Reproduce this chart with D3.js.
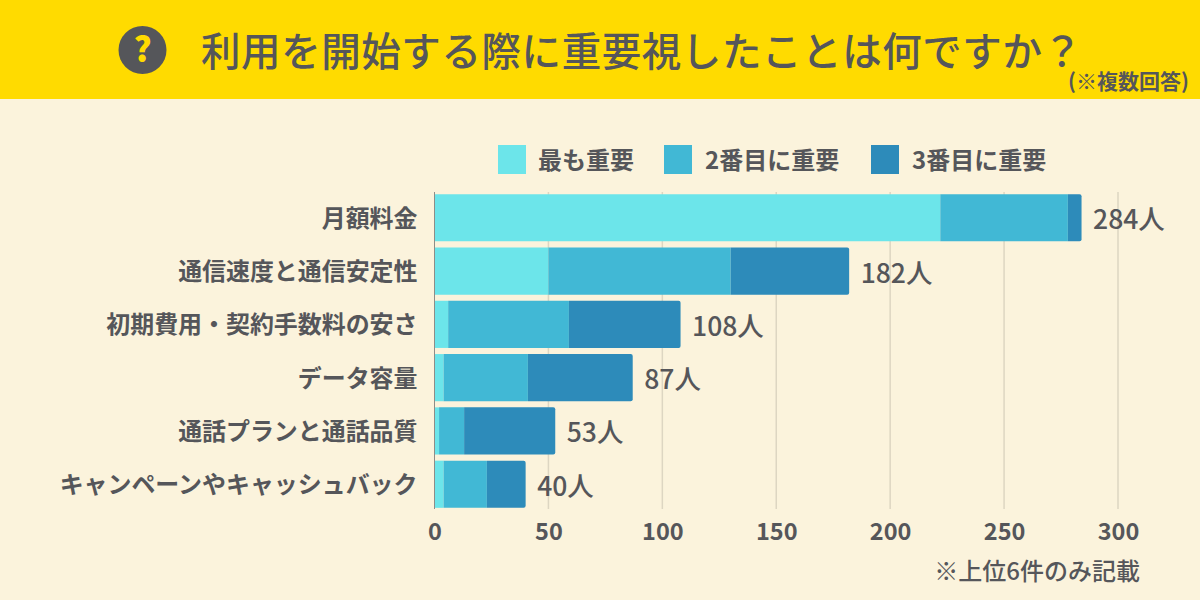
<!DOCTYPE html>
<html><head><meta charset="utf-8">
<script src="https://cdnjs.cloudflare.com/ajax/libs/d3/7.8.5/d3.min.js"></script>
<style>html,body{margin:0;padding:0;background:#fbf3dc}svg{display:block}text{font-family:"Noto Sans CJK JP",sans-serif;fill:#55565a}</style>
</head><body><svg id="c" width="1200" height="600"></svg>
<script>
const categories=["月額料金","通信速度と通信安定性","初期費用・契約手数料の安さ","データ容量","通話プランと通話品質","キャンペーンやキャッシュバック"];
const first=[222,50,6,4,2,4];
const second=[56,80,53,37,11,19];
const third=[6,52,49,46,40,17];
const totals=[284,182,108,87,53,40];
const seriesNames=["最も重要","2番目に重要","3番目に重要"];
const colors=["#6ce5ea","#41b8d5","#2d8bba"];
const ticks=[0,50,100,150,200,250,300];
const titleText="利用を開始する際に重要視したことは何ですか？";
const noteText="(※複数回答)";
const footText="※上位6件のみ記載";
const unit="人";

const svg=d3.select("#c");
svg.append("rect").attr("width",1200).attr("height",600).attr("fill","#fbf3dc");
svg.append("rect").attr("width",1200).attr("height",99).attr("fill","#ffdb00");
svg.append("circle").attr("cx",142.5).attr("cy",50).attr("r",24).attr("fill","#55565a");
svg.append("text").attr("x",142.5).attr("y",62).attr("text-anchor","middle").attr("font-size",34).attr("font-weight",900).style("fill","#ffdb00").text("?");
svg.append("text").attr("x",201).attr("y",65.5).attr("font-size",39.5).attr("font-weight",500).attr("textLength",881).attr("lengthAdjust","spacing").text(titleText);
svg.append("text").attr("x",1189).attr("y",89).attr("text-anchor","end").attr("font-size",21).attr("font-weight",700).text(noteText);

const x=d3.scaleLinear().domain([0,300]).range([434.5,1118]);
const y=d3.scaleBand().domain(categories).range([191.5,510.5]).paddingInner(0.115).paddingOuter(0.05);

// grid
svg.append("g").selectAll("line").data(ticks.slice(1)).join("line")
 .attr("x1",d=>x(d)).attr("x2",d=>x(d)).attr("y1",192).attr("y2",509)
 .attr("stroke","#ddd6c2").attr("stroke-width",1.5);

// bars
const stack=d3.stack().keys([0,1,2]).value((d,k)=>[first,second,third][k][categories.indexOf(d)]);
const layers=stack(categories);
layers.forEach((layer,k)=>{
  svg.append("g").selectAll("path").data(layer).join("path").attr("fill",colors[k]).attr("d",(d,i)=>{
    const x0=x(d[0]),x1=x(d[1]),t=y(categories[i]),b=t+y.bandwidth();
    if(k<2) return `M${x0},${t}H${x1}V${b}H${x0}Z`;
    const r=Math.min(2,x1-x0);
    return `M${x0},${t}H${x1-r}Q${x1},${t} ${x1},${t+r}V${b-r}Q${x1},${b} ${x1-r},${b}H${x0}Z`;
  });
});
// baseline
svg.append("line").attr("x1",x(0)).attr("x2",x(0)).attr("y1",192).attr("y2",509).attr("stroke","#8d8d88").attr("stroke-width",1);

// category labels
svg.append("g").selectAll("text").data(categories).join("text")
 .attr("x",417.5).attr("y",d=>y(d)+y.bandwidth()/2+9).attr("text-anchor","end")
 .attr("font-size",23.95).attr("font-weight",700).text(d=>d);

// totals
svg.append("g").selectAll("text").data(categories).join("text")
 .attr("x",(d,i)=>x(totals[i])+11.5).attr("y",d=>y(d)+y.bandwidth()/2+11.5)
 .attr("font-size",26.5).attr("font-weight",500).text((d,i)=>totals[i]+unit);

// x axis labels
const axis=svg.append("g").attr("transform","translate(0,520)").call(d3.axisBottom(x).tickValues(ticks).tickSize(0).tickPadding(0));
axis.select(".domain").remove();
axis.selectAll("text").attr("y",0).attr("dy","20").attr("font-size",23.5).attr("font-weight",700).style("font-family",'"Noto Sans CJK JP",sans-serif').style("fill","#55565a");

// legend
const lx=[498,664,871], tx=[538,705,912];
seriesNames.forEach((s,i)=>{
  svg.append("rect").attr("x",lx[i]).attr("y",145).attr("width",28).attr("height",29).attr("fill",colors[i]);
  svg.append("text").attr("x",tx[i]).attr("y",169).attr("font-size",24).attr("font-weight",700).text(s);
});
svg.append("text").attr("x",1140).attr("y",580).attr("text-anchor","end").attr("font-size",24).attr("font-weight",500).text(footText);
</script></body></html>
